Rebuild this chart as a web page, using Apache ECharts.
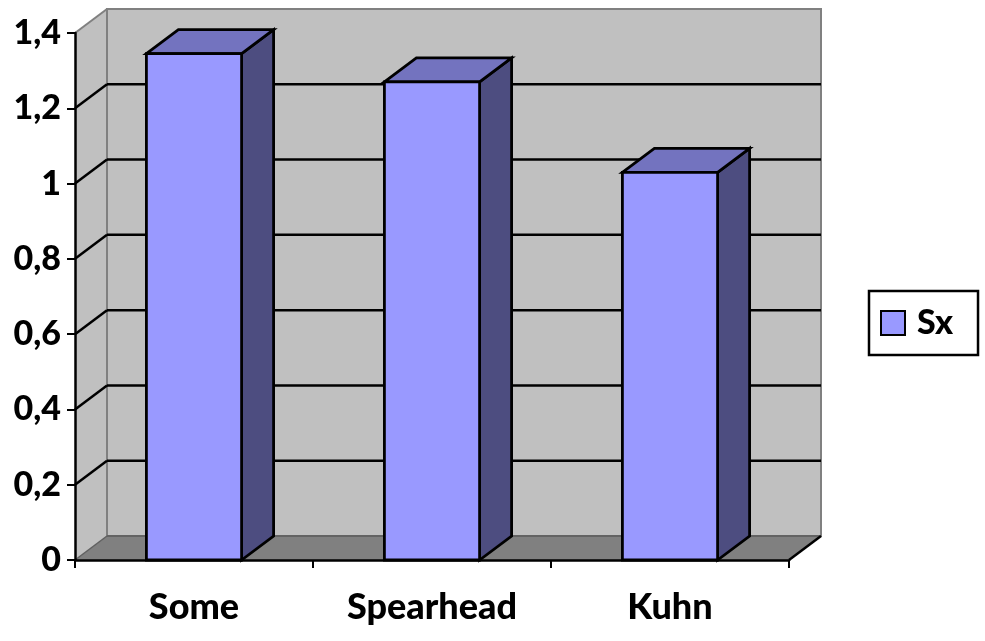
<!DOCTYPE html>
<html>
<head>
<meta charset="utf-8">
<script src="https://cdn.jsdelivr.net/npm/echarts@6/dist/echarts.min.js"></script>
<style>html,body{margin:0;padding:0;background:#fff}#c{width:985px;height:641px}</style>
</head>
<body>
<div id="c"></div>
<script>
const categories = ['Some', 'Spearhead', 'Kuhn'];
const values = [1.345, 1.27, 1.03];
const seriesName = 'Sx';
const gridValues = [0.2, 0.4, 0.6, 0.8, 1.0, 1.2];

const DX = 32, DY = -24;
const FONT = 'Lato, "Open Sans", sans-serif';

const chart = echarts.init(document.getElementById('c'));

function wallsRender(params, api) {
  const r = params.coordSys;
  const L = r.x, T = r.y, R = r.x + r.width, B = r.y + r.height;
  return {
    type: 'group',
    children: [
      { type: 'polygon', shape: { points: [[L, T], [L + DX, T + DY], [L + DX, B + DY], [L, B]] },
        style: { fill: '#C0C0C0', stroke: null } },
      { type: 'polygon', shape: { points: [[L + DX, T + DY], [R + DX, T + DY], [R + DX, B + DY], [L + DX, B + DY]] },
        style: { fill: '#C0C0C0', stroke: '#808080', lineWidth: 2 } },
      { type: 'polygon', shape: { points: [[L, B], [L + DX, B + DY], [R + DX, B + DY], [R, B]] },
        style: { fill: '#808080', stroke: null } },
      { type: 'line', shape: { x1: L + DX, y1: B + DY, x2: R + DX, y2: B + DY }, style: { stroke: '#5a5a5a', lineWidth: 1.5 } },
      { type: 'line', shape: { x1: L, y1: B, x2: L + DX, y2: B + DY }, style: { stroke: '#606060', lineWidth: 1.5 } },
      { type: 'line', shape: { x1: L, y1: T, x2: L + DX, y2: T + DY }, style: { stroke: '#808080', lineWidth: 2 } },
      { type: 'line', shape: { x1: R, y1: B, x2: R + DX, y2: B + DY }, style: { stroke: '#000', lineWidth: 2.5 } }
    ]
  };
}

function gridRender(params, api) {
  const r = params.coordSys;
  const L = r.x, R = r.x + r.width;
  const y = api.coord([0, api.value(0)])[1];
  return {
    type: 'group',
    children: [
      { type: 'line', shape: { x1: L, y1: y, x2: L + DX, y2: y + DY }, style: { stroke: '#000', lineWidth: 2.5 } },
      { type: 'line', shape: { x1: L + DX, y1: y + DY, x2: R + DX, y2: y + DY }, style: { stroke: '#000', lineWidth: 2.5 } }
    ]
  };
}

function barRender(params, api) {
  const base = api.coord([api.value(0), 0]);
  const top = api.coord([api.value(0), api.value(1)]);
  const bw = api.size([1, 0])[0] * 0.4;
  const x0 = base[0] - bw / 2, x1 = x0 + bw;
  const yt = top[1], yb = base[1];
  const st = { stroke: '#000', lineWidth: 2.8, lineJoin: 'miter' };
  return {
    type: 'group',
    children: [
      { type: 'polygon', shape: { points: [[x1, yt], [x1 + DX, yt + DY], [x1 + DX, yb + DY], [x1, yb]] },
        style: Object.assign({ fill: '#4D4D80' }, st) },
      { type: 'polygon', shape: { points: [[x0, yt], [x0 + DX, yt + DY], [x1 + DX, yt + DY], [x1, yt]] },
        style: Object.assign({ fill: '#7373BF' }, st) },
      { type: 'rect', shape: { x: x0, y: yt, width: bw, height: yb - yt },
        style: Object.assign({ fill: '#9999FF' }, st) }
    ]
  };
}

chart.setOption({
  animation: false,
  backgroundColor: '#fff',
  grid: { left: 75, right: 196, top: 33, bottom: 81, containLabel: false },
  legend: {
    data: [{ name: seriesName, icon: 'rect', itemStyle: { color: '#9999FF', borderColor: '#000', borderWidth: 2 } }],
    left: 869, top: 291,
    orient: 'vertical',
    itemWidth: 24, itemHeight: 24,
    padding: [15, 25, 15, 11],
    borderColor: '#000', borderWidth: 2.5, borderRadius: 0,
    selectedMode: false,
    textStyle: { fontFamily: FONT, fontWeight: 900, fontSize: 34, color: '#000', padding: [0, 0, 0, 7] }
  },
  xAxis: {
    type: 'category',
    data: categories,
    boundaryGap: true,
    z: 10,
    axisLine: { show: true, lineStyle: { color: '#000', width: 2.5 } },
    axisTick: { show: true, length: 8, alignWithLabel: false, lineStyle: { color: '#000', width: 2 } },
    axisLabel: { fontFamily: FONT, fontWeight: 900, fontSize: 36, color: '#000', margin: 29 },
    splitLine: { show: false }
  },
  yAxis: {
    type: 'value',
    min: 0, max: 1.4, interval: 0.2,
    z: 10,
    axisLine: { show: true, lineStyle: { color: '#000', width: 2.5 } },
    axisTick: { show: true, length: 8, lineStyle: { color: '#000', width: 2 } },
    axisLabel: {
      fontFamily: FONT, fontWeight: 900, fontSize: 34, color: '#000', margin: 14,
      formatter: v => String(Math.round(v * 10) / 10).replace('.', ',')
    },
    splitLine: { show: false }
  },
  series: [
    { type: 'custom', name: 'walls', silent: true, z: 1, data: [[0]], renderItem: wallsRender, encode: { y: 0 } },
    { type: 'custom', name: 'grid', silent: true, z: 1, data: gridValues.map(v => [v]), renderItem: gridRender, encode: { y: 0 } },
    { type: 'custom', name: seriesName, z: 3, itemStyle: { color: '#9999FF' },
      data: values.map((v, i) => [i, v]), renderItem: barRender, encode: { x: 0, y: 1 } }
  ]
});
</script>
</body>
</html>
